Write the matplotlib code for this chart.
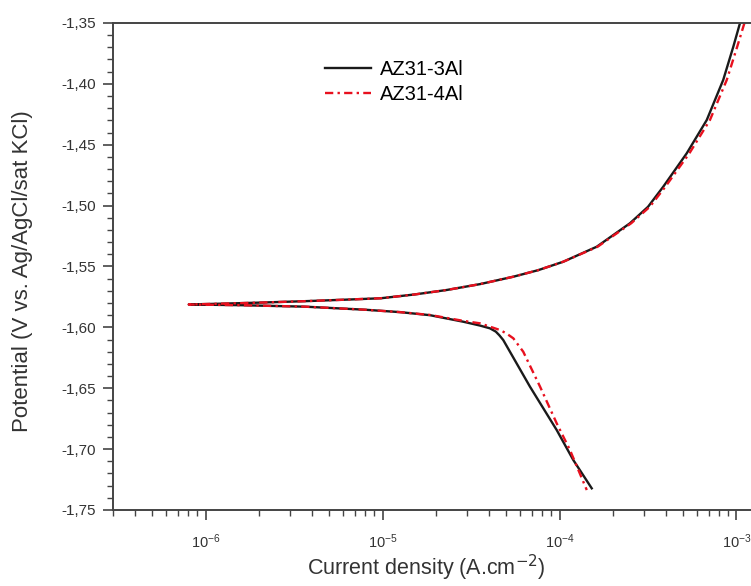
import numpy as np
import matplotlib.pyplot as plt
from matplotlib.ticker import MultipleLocator, FuncFormatter, LogLocator

plt.rcParams['font.family'] = ['Liberation Sans', 'DejaVu Sans']

# Courbes de polarisation (log10 de la densite de courant, potentiel en V)
# branche anodique AZ31-3Al
anod_3al_logi = [-6.095, -5.9, -5.7, -5.44, -5.2, -5.01, -4.82, -4.637, -4.45, -4.261, -4.12, -3.979,
                 -3.79, -3.602, -3.50, -3.414, -3.281, -3.168, -3.075, -3.018, -2.980]
anod_3al_v = [-1.5812, -1.5805, -1.5797, -1.5785, -1.5772, -1.5761, -1.5730, -1.5693, -1.5645, -1.5584,
              -1.5530, -1.5461, -1.5338, -1.5145, -1.5010, -1.4845, -1.4570, -1.4297, -1.3968, -1.3695, -1.3500]
# branche cathodique AZ31-3Al
cath_3al_logi = [-6.095, -5.8, -5.438, -5.1, -4.9, -4.732, -4.543, -4.45, -4.393, -4.36, -4.34,
                 -4.318, -4.167, -4.016, -3.922, -3.818]
cath_3al_v = [-1.5812, -1.5818, -1.5830, -1.5855, -1.5875, -1.5900, -1.5954, -1.5985, -1.6008, -1.6035,
              -1.6065, -1.6104, -1.6487, -1.6843, -1.7090, -1.7322]

# branche anodique AZ31-4Al
anod_4al_logi = [-6.095, -5.9, -5.7, -5.44, -5.2, -5.01, -4.82, -4.637, -4.45, -4.261, -4.12, -3.979,
                 -3.785, -3.595, -3.490, -3.402, -3.266, -3.150, -3.055, -2.996, -2.955]
anod_4al_v = [-1.5812, -1.5805, -1.5797, -1.5785, -1.5772, -1.5761, -1.5730, -1.5693, -1.5645, -1.5584,
              -1.5530, -1.5461, -1.5338, -1.5145, -1.5010, -1.4845, -1.4570, -1.4297, -1.3968, -1.3695, -1.3500]
# branche cathodique AZ31-4Al
cath_4al_logi = [-6.095, -5.8, -5.438, -5.1, -4.9, -4.732, -4.55, -4.449, -4.336, -4.30, -4.261,
                 -4.205, -4.110, -4.016, -3.941, -3.846]
cath_4al_v = [-1.5812, -1.5818, -1.5830, -1.5855, -1.5875, -1.5898, -1.5945, -1.5967, -1.6022, -1.6050,
              -1.6090, -1.6200, -1.6487, -1.6788, -1.7007, -1.7336]


def branche(logi_a, v_a, logi_c, v_c):
    # on joint les deux branches en passant par le potentiel de corrosion
    x = list(reversed(logi_a)) + logi_c[1:]
    y = list(reversed(v_a)) + v_c[1:]
    return 10 ** np.array(x), np.array(y)


fig = plt.figure(figsize=(7.51, 5.86), dpi=100)
ax = fig.add_axes([0.1505, 0.1297, 0.8495, 0.8311])

x3, y3 = branche(anod_3al_logi, anod_3al_v, cath_3al_logi, cath_3al_v)
x4, y4 = branche(anod_4al_logi, anod_4al_v, cath_4al_logi, cath_4al_v)
ax.plot(x3, y3, color='#1a1a1a', lw=1.7, label='AZ31-3Al', solid_joinstyle='round')
ax.plot(x4, y4, color='#e8101e', lw=1.7, ls=(0, (3.5, 1.8, 1.0, 1.8)), label='AZ31-4Al')

ax.set_xscale('log')
ax.set_xlim(10 ** -6.523, 10 ** -2.918)
ax.set_ylim(-1.75, -1.35)

ax.yaxis.set_major_locator(MultipleLocator(0.05))
ax.yaxis.set_minor_locator(MultipleLocator(0.01))
ax.yaxis.set_major_formatter(FuncFormatter(lambda v, p: f'{v:.2f}'.replace('.', ',')))
ax.xaxis.set_major_locator(LogLocator(base=10, numticks=10))
ax.xaxis.set_minor_locator(LogLocator(base=10, subs=np.arange(2, 10), numticks=20))

ax.spines['right'].set_visible(False)
for s in ['left', 'top', 'bottom']:
    ax.spines[s].set_linewidth(1.4)
    ax.spines[s].set_color('#444444')
ax.tick_params(which='major', direction='out', length=7, width=1.2, colors='#444444', labelcolor='#333333')
ax.tick_params(which='minor', direction='out', length=4, width=1.0, colors='#444444')
ax.tick_params(axis='y', which='major', labelsize=11, pad=5)
ax.tick_params(axis='x', which='major', labelsize=10.5, pad=9)
ax.tick_params(top=False, right=False, which='both')

ax.set_xlabel('Current density (A.cm$^{-2}$)', fontsize=15.5, color='#333333')
ax.set_ylabel('Potential (V vs. Ag/AgCl/sat KCl)', fontsize=16, color='#333333')
ax.xaxis.set_label_coords(0.491, -0.088)
ax.yaxis.set_label_coords(-0.125, 0.49)

ax.legend(loc='upper left', bbox_to_anchor=(0.332, 0.924), frameon=False, fontsize=14.5,
          borderaxespad=0, borderpad=0, handlelength=2.3, handletextpad=0.45, labelspacing=0.3)

fig.savefig('out.png', dpi=100)
